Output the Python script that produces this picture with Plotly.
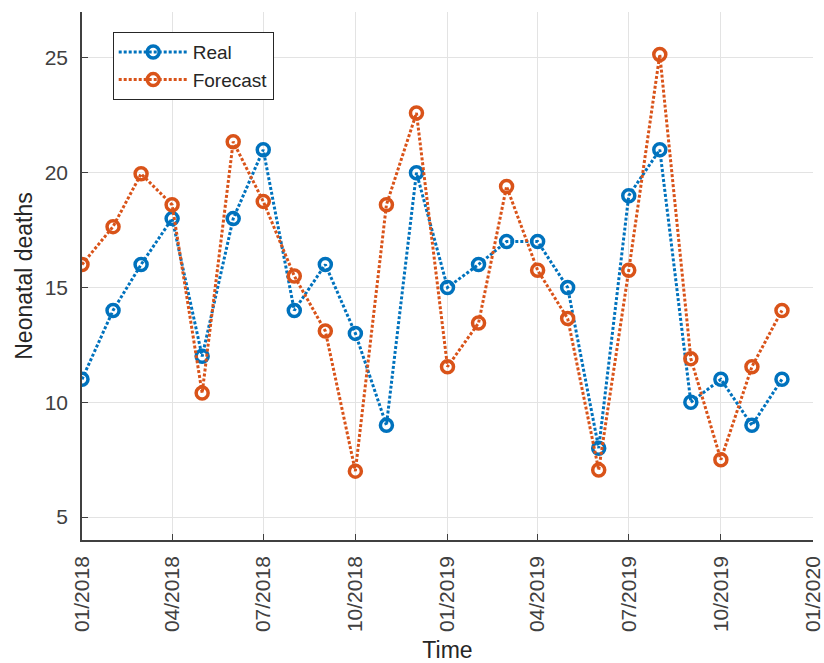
import plotly.graph_objects as go

months = ["2018-01-01", "2018-02-01", "2018-03-01", "2018-04-01", "2018-05-01", "2018-06-01",
          "2018-07-01", "2018-08-01", "2018-09-01", "2018-10-01", "2018-11-01", "2018-12-01",
          "2019-01-01", "2019-02-01", "2019-03-01", "2019-04-01", "2019-05-01", "2019-06-01",
          "2019-07-01", "2019-08-01", "2019-09-01", "2019-10-01", "2019-11-01", "2019-12-01"]
real = [11, 14, 16, 18, 12, 18, 21, 14, 16, 13, 9, 20,
        15, 16, 17, 17, 15, 8, 19, 21, 10, 11, 9, 11]
forecast = [16.0, 17.65, 19.95, 18.6, 10.4, 21.35, 18.75, 15.5, 13.1, 7.0, 18.6, 22.6,
            11.55, 13.45, 19.4, 15.75, 13.65, 7.05, 15.75, 25.15, 11.9, 7.5, 11.55, 14.0]

blue = "#0072BD"
orange = "#D95319"
axcol = "#404040"
txtcol = "#262626"

fig = go.Figure()
for name, vals, col in [("Real", real, blue), ("Forecast", forecast, orange)]:
    fig.add_trace(go.Scatter(
        x=months, y=vals, name=name, mode="lines+markers",
        line=dict(color=col, width=3, dash="3px,2px"),
        marker=dict(symbol="circle-open", size=12, color=col, line=dict(width=3.5, color=col)),
    ))

fig.update_layout(
    width=824, height=663,
    margin=dict(l=82, r=11, t=12, b=123),
    plot_bgcolor="white", paper_bgcolor="white",
    font=dict(family="Liberation Sans, Arial, sans-serif", size=20, color=axcol),
    showlegend=True,
    legend=dict(
        x=0.042, y=0.962, xanchor="left", yanchor="top",
        bgcolor="white", bordercolor=txtcol, borderwidth=1,
        font=dict(size=19, color=txtcol),
        tracegroupgap=0, itemwidth=69,
    ),
)
fig.update_xaxes(
    type="date",
    range=["2018-01-01", "2020-01-01"],
    tick0="2018-01-01", dtick="M3", tickformat="%m/%Y",
    tickangle=-90,
    showgrid=True, gridcolor="#e3e3e3", gridwidth=1,
    showline=True, linecolor=axcol, linewidth=1.5, mirror=False,
    ticks="inside", ticklen=6, tickcolor=axcol,
    tickfont=dict(size=21, color=axcol),
    ticklabelstandoff=6,
    title=dict(text="Time", font=dict(size=23, color=txtcol), standoff=13),
    zeroline=False, automargin=False,
)
fig.update_yaxes(
    range=[4, 27],
    tickvals=[5, 10, 15, 20, 25],
    showgrid=True, gridcolor="#e3e3e3", gridwidth=1,
    showline=True, linecolor=axcol, linewidth=1.5, mirror=False,
    ticks="inside", ticklen=6, tickcolor=axcol,
    tickfont=dict(size=21, color=axcol),
    ticklabelstandoff=8,
    title=dict(text="Neonatal deaths", font=dict(size=23, color=txtcol), standoff=6),
    zeroline=False, automargin=False,
)

fig.write_html("out.html", config={"displayModeBar": False},
               post_script="document.body.style.margin='0px';")
